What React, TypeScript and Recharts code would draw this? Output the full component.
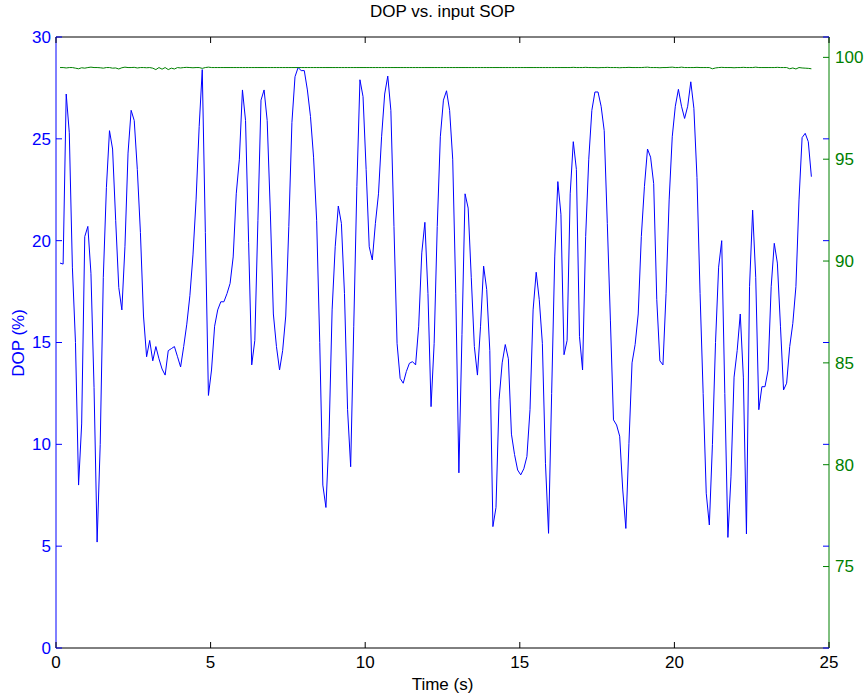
import React from 'react';
import { LineChart, Line, XAxis, YAxis, ReferenceLine } from 'recharts';

const chartTitle = 'DOP vs. input SOP';
const xLabel = 'Time (s)';
const leftLabel = 'DOP (%)';

// samples are 0.1 s apart
const startTime = 0.13;
const timeStep = 0.1;

const dop = [
  18.9, 18.85, 27.2, 25.3, 18.7, 15.0, 8.0, 11.0, 20.2, 20.7,
  18.4, 12.8, 5.2, 10.0, 18.2, 22.6, 25.4, 24.5, 21.0, 17.7,
  16.6, 19.7, 24.3, 26.4, 25.9, 23.5, 20.4, 16.3, 14.3, 15.1,
  14.1, 14.8, 14.2, 13.7, 13.4, 14.6, 14.7, 14.8, 14.3, 13.8,
  14.8, 15.9, 17.3, 19.3, 22.0, 25.6, 28.4, 20.4, 12.4, 13.65,
  15.8, 16.6, 17.0, 17.0, 17.4, 17.9, 19.2, 22.3, 24.0, 27.4,
  25.9, 19.9, 13.9, 15.1, 21.0, 26.9, 27.4, 25.9, 21.5, 16.4,
  14.8, 13.65, 14.6, 16.3, 20.7, 25.8, 28.05, 28.5, 28.35, 28.35,
  27.4, 26.1, 24.1, 21.0, 15.0, 8.0, 6.9, 10.4, 16.6, 19.7,
  21.7, 20.85, 17.4, 11.7, 8.9, 15.8, 22.65, 27.9, 27.07, 23.5,
  19.7, 19.05, 20.85, 22.3, 25.1, 27.2, 28.08, 26.4, 20.7, 14.96,
  13.24, 13.0, 13.57, 13.98, 14.06, 13.9, 15.8, 19.4, 20.9, 17.4,
  11.85, 14.96, 20.7, 25.1, 26.9, 27.36, 26.4, 24.0, 17.4, 8.6,
  15.4, 22.3, 21.6, 18.2, 14.8, 13.4, 15.8, 18.75, 17.6, 14.6,
  5.96, 6.9, 12.2, 14.0, 14.9, 14.2, 10.5, 9.5, 8.74, 8.5,
  8.8, 9.4, 11.7, 16.6, 18.45, 17.1, 14.96, 9.07, 5.63, 12.5,
  19.2, 22.9, 21.3, 14.4, 15.1, 22.3, 24.86, 23.5, 15.3, 13.65,
  20.2, 24.0, 26.4, 27.3, 27.3, 26.6, 25.4, 20.85, 16.1, 11.2,
  10.95, 10.4, 7.76, 5.87, 10.05, 14.0, 14.9, 16.4, 20.2, 22.65,
  24.5, 24.1, 22.8, 17.1, 14.1, 13.9, 17.4, 22.0, 25.1, 26.6,
  27.43, 26.6, 26.0, 26.6, 27.8, 26.5, 23.1, 17.4, 12.5, 7.6,
  6.04, 10.0, 15.0, 18.7, 20.0, 12.5, 5.43, 8.4, 13.3, 14.6,
  16.4, 13.3, 5.6, 17.74, 21.5, 18.2, 11.7, 12.83, 12.83, 13.65,
  17.74, 19.87, 18.9, 15.8, 12.67, 13.0, 14.8, 15.94, 17.74, 22.0,
  25.06, 25.27, 24.86, 23.14,
];

const sop = [
  99.5, 99.5, 99.48, 99.5, 99.5, 99.47, 99.44, 99.49, 99.47, 99.5,
  99.52, 99.5, 99.5, 99.49, 99.47, 99.5, 99.5, 99.47, 99.48, 99.43,
  99.49, 99.52, 99.5, 99.5, 99.51, 99.48, 99.5, 99.5, 99.49, 99.5,
  99.47, 99.4, 99.5, 99.42, 99.5, 99.4, 99.47, 99.43, 99.5, 99.48,
  99.5, 99.51, 99.5, 99.49, 99.5, 99.5, 99.46, 99.5, 99.52, 99.5,
  99.5, 99.5, 99.5, 99.5, 99.5, 99.5, 99.5, 99.5, 99.5, 99.5,
  99.5, 99.5, 99.5, 99.5, 99.5, 99.5, 99.5, 99.5, 99.5, 99.5,
  99.5, 99.5, 99.5, 99.5, 99.5, 99.5, 99.5, 99.5, 99.5, 99.5,
  99.5, 99.5, 99.5, 99.5, 99.5, 99.5, 99.5, 99.5, 99.5, 99.5,
  99.5, 99.5, 99.5, 99.5, 99.5, 99.5, 99.5, 99.5, 99.5, 99.5,
  99.5, 99.5, 99.5, 99.5, 99.5, 99.5, 99.5, 99.5, 99.5, 99.5,
  99.5, 99.5, 99.5, 99.5, 99.5, 99.5, 99.5, 99.5, 99.5, 99.5,
  99.5, 99.5, 99.5, 99.5, 99.5, 99.5, 99.5, 99.5, 99.5, 99.5,
  99.5, 99.5, 99.5, 99.5, 99.5, 99.5, 99.5, 99.5, 99.5, 99.5,
  99.5, 99.5, 99.5, 99.5, 99.5, 99.5, 99.5, 99.5, 99.5, 99.5,
  99.5, 99.5, 99.5, 99.5, 99.5, 99.5, 99.5, 99.5, 99.5, 99.5,
  99.5, 99.5, 99.5, 99.5, 99.5, 99.5, 99.51, 99.5, 99.5, 99.5,
  99.51, 99.5, 99.5, 99.5, 99.49, 99.5, 99.5, 99.51, 99.5, 99.5,
  99.5, 99.49, 99.5, 99.5, 99.51, 99.5, 99.5, 99.5, 99.5, 99.51,
  99.52, 99.5, 99.5, 99.5, 99.49, 99.5, 99.5, 99.51, 99.52, 99.5,
  99.5, 99.52, 99.5, 99.5, 99.5, 99.5, 99.51, 99.5, 99.5, 99.5,
  99.5, 99.44, 99.48, 99.5, 99.51, 99.5, 99.5, 99.5, 99.49, 99.5,
  99.5, 99.51, 99.5, 99.5, 99.5, 99.52, 99.5, 99.5, 99.5, 99.5,
  99.5, 99.5, 99.51, 99.5, 99.5, 99.5, 99.44, 99.48, 99.43, 99.5,
  99.48, 99.47, 99.46, 99.44,
];

const timeTicks = [0, 5, 10, 15, 20, 25];
const dopTicks = [0, 5, 10, 15, 20, 25, 30];
const sopTicks = [75, 80, 85, 90, 95, 100];

const BLUE = '#0000ff';
const GREEN = '#008000';
const FONT = '"Liberation Sans", Arial, Helvetica, sans-serif';
const FS = 17;

// plot box edges in px
const LEFT = 56;
const RIGHT = 829;
const TOP = 37;
const BOTTOM = 648;
const TICK = 6;

const data = dop.map((v, i) => ({ t: startTime + i * timeStep, dop: v, sop: sop[i] }));

const XTick = (props: any) => {
  const { x, payload } = props;
  return (
    <g>
      <line x1={x} x2={x} y1={BOTTOM} y2={BOTTOM - TICK} stroke="#000" />
      <line x1={x} x2={x} y1={TOP} y2={TOP + TICK} stroke="#000" />
      <text x={x} y={BOTTOM + 14} dy="0.35em" textAnchor="middle" fill="#000" fontSize={FS} fontFamily={FONT}>
        {payload.value}
      </text>
    </g>
  );
};

const LeftTick = (props: any) => {
  const { y, payload } = props;
  return (
    <g>
      <line x1={LEFT} x2={LEFT + TICK} y1={y} y2={y} stroke={BLUE} />
      <line x1={RIGHT - TICK} x2={RIGHT} y1={y} y2={y} stroke={BLUE} />
      <text x={LEFT - 5} y={y} dy="0.35em" textAnchor="end" fill={BLUE} fontSize={FS} fontFamily={FONT}>
        {payload.value}
      </text>
    </g>
  );
};

const RightTick = (props: any) => {
  const { y, payload } = props;
  return (
    <g>
      <line x1={RIGHT - TICK} x2={RIGHT} y1={y} y2={y} stroke={GREEN} />
      <text x={RIGHT + 6} y={y} dy="0.35em" textAnchor="start" fill={GREEN} fontSize={FS} fontFamily={FONT}>
        {payload.value}
      </text>
    </g>
  );
};

const overlay: React.CSSProperties = {
  position: 'absolute',
  transform: 'translate(-50%, -50%)',
  fontFamily: FONT,
  fontSize: FS,
  whiteSpace: 'nowrap',
  lineHeight: 1,
};

export default function App() {
  return (
    <div style={{ position: 'absolute', left: 0, top: 0, width: 864, height: 693, background: '#fff' }}>
      <LineChart width={864} height={693} data={data} margin={{ top: TOP, right: 0, bottom: 0, left: 0 }}>
        <XAxis
          dataKey="t"
          type="number"
          domain={[0, 25]}
          ticks={timeTicks}
          interval={0}
          height={693 - BOTTOM}
          axisLine={{ stroke: '#000' }}
          tickLine={false}
          tick={<XTick />}
        />
        <YAxis
          yAxisId="left"
          domain={[0, 30]}
          ticks={dopTicks}
          interval={0}
          width={LEFT}
          axisLine={{ stroke: BLUE }}
          tickLine={false}
          tick={<LeftTick />}
        />
        <YAxis
          yAxisId="right"
          orientation="right"
          domain={[71, 101]}
          ticks={sopTicks}
          interval={0}
          width={864 - RIGHT}
          axisLine={{ stroke: GREEN }}
          tickLine={false}
          tick={<RightTick />}
        />
        <ReferenceLine yAxisId="left" y={30} stroke="#000" />
        <Line
          yAxisId="left"
          dataKey="dop"
          type="linear"
          stroke={BLUE}
          strokeWidth={1}
          dot={false}
          isAnimationActive={false}
        />
        <Line
          yAxisId="right"
          dataKey="sop"
          type="linear"
          stroke={GREEN}
          strokeWidth={1}
          dot={false}
          isAnimationActive={false}
        />
      </LineChart>
      <div style={{ ...overlay, left: (LEFT + RIGHT) / 2, top: 11 }}>{chartTitle}</div>
      <div style={{ ...overlay, left: (LEFT + RIGHT) / 2, top: 684 }}>{xLabel}</div>
      <div style={{ ...overlay, left: 18, top: (TOP + BOTTOM) / 2, color: BLUE, transform: 'translate(-50%, -50%) rotate(-90deg)' }}>
        {leftLabel}
      </div>
    </div>
  );
}
